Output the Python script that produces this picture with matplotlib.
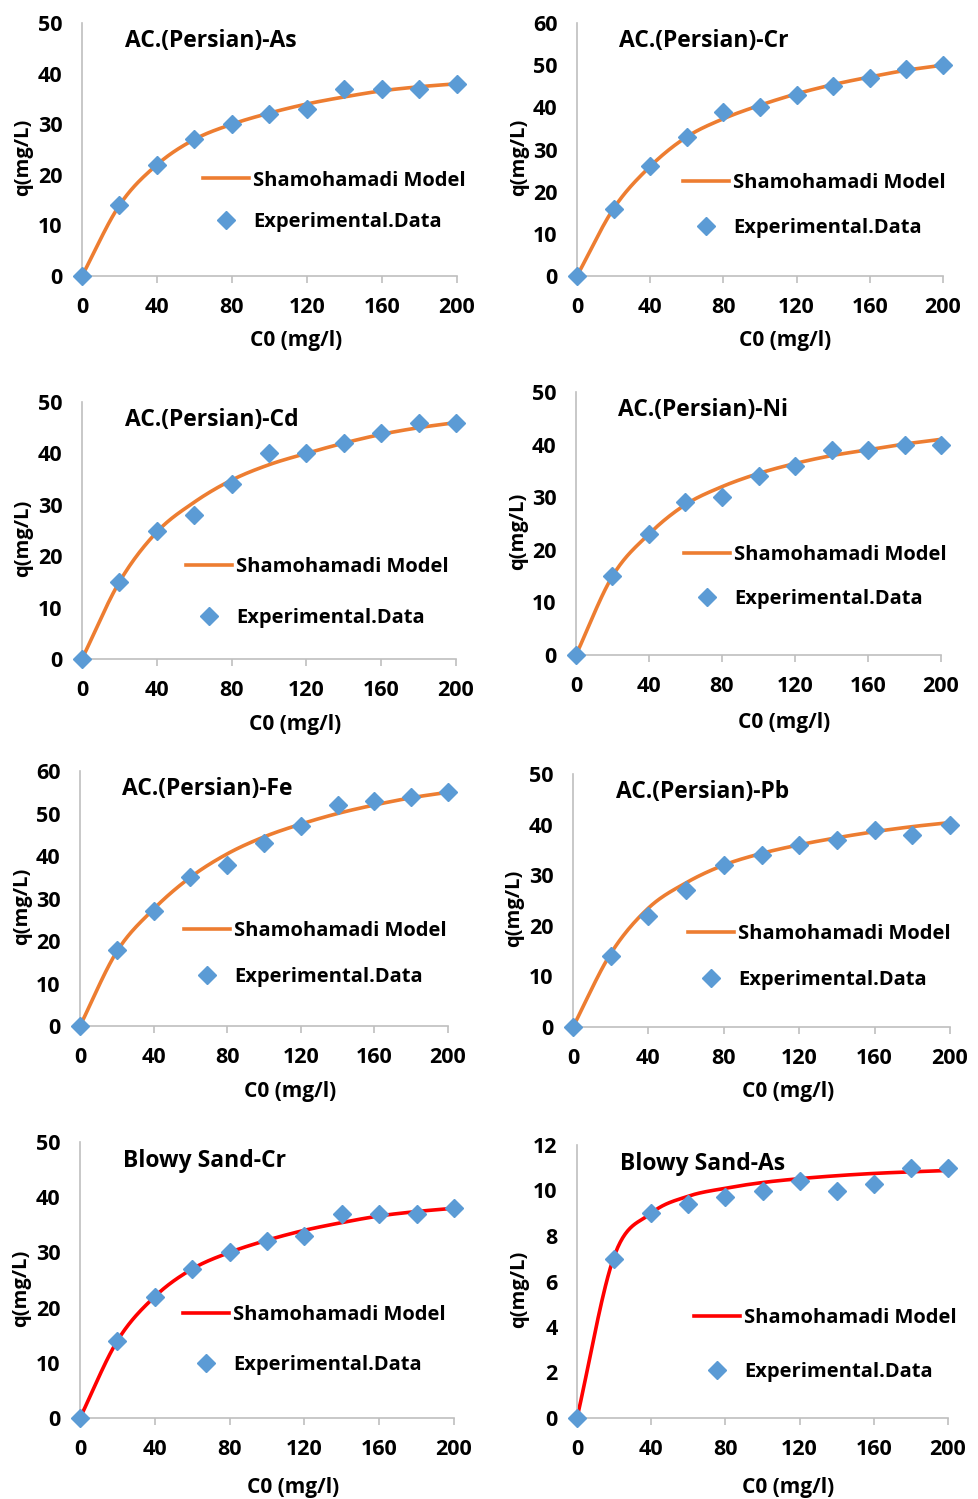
import matplotlib
matplotlib.use("Agg")
import matplotlib.pyplot as plt
import numpy as np

plt.rcParams['font.family'] = ['Open Sans', 'DejaVu Sans']
plt.rcParams['font.weight'] = 'bold'

# Data
c0 = [0, 20, 40, 60, 80, 100, 120, 140, 160, 180, 200]

titles = ['AC.(Persian)-As', 'AC.(Persian)-Cr', 'AC.(Persian)-Cd', 'AC.(Persian)-Ni',
          'AC.(Persian)-Fe', 'AC.(Persian)-Pb', 'Blowy Sand-Cr', 'Blowy Sand-As']

exp_as = [0, 14, 22, 27, 30, 32, 33, 37, 37, 37, 38]
mod_as = [0, 14, 22, 27, 30, 32.2, 34, 35.4, 36.6, 37.4, 38]

exp_cr = [0, 16, 26, 33, 39, 40, 43, 45, 47, 49, 50]
mod_cr = [0, 16, 26, 33, 37.3, 40.5, 43.2, 45.4, 47.2, 48.8, 50]

exp_cd = [0, 15, 25, 28, 34, 40, 40, 42, 44, 46, 46]
mod_cd = [0, 15, 24.7, 30.5, 34.8, 37.8, 40, 42, 43.7, 45, 46]

exp_ni = [0, 15, 23, 29, 30, 34, 36, 39, 39, 40, 40]
mod_ni = [0, 15, 23, 28.6, 32, 34.5, 36.4, 37.9, 39, 40.1, 41]

exp_fe = [0, 18, 27, 35, 38, 43, 47, 52, 53, 54, 55]
mod_fe = [0, 17.5, 27.5, 35, 40.5, 44.5, 47.5, 50, 52, 53.7, 55]

exp_pb = [0, 14, 22, 27, 32, 34, 36, 37, 39, 38, 40]
mod_pb = [0, 14.5, 23.5, 28.5, 32, 34.3, 36, 37.4, 38.6, 39.6, 40.4]

exp_bs_cr = [0, 14, 22, 27, 30, 32, 33, 37, 37, 37, 38]
mod_bs_cr = [0, 14, 22, 27, 30, 32.2, 34, 35.4, 36.6, 37.4, 38]

exp_bs_as = [0, 7, 9, 9.4, 9.7, 10, 10.4, 10, 10.3, 11, 11]
mod_bs_as = [0, 7.1, 9.0, 9.75, 10.1, 10.35, 10.52, 10.65, 10.75, 10.82, 10.88]

exps = [exp_as, exp_cr, exp_cd, exp_ni, exp_fe, exp_pb, exp_bs_cr, exp_bs_as]
mods = [mod_as, mod_cr, mod_cd, mod_ni, mod_fe, mod_pb, mod_bs_cr, mod_bs_as]
ymax = [50, 60, 50, 50, 60, 50, 50, 12]
ystep = [10, 10, 10, 10, 10, 10, 10, 2]
line_colors = ['#ED7D31'] * 6 + ['#FF0000'] * 2

# axes boxes in pixels: left, right, top, bottom
boxes = [(82, 457, 23, 276), (577, 943, 23, 276),
         (82, 456, 402, 659), (576, 941, 392, 655),
         (80, 448, 771, 1026), (573, 950, 774, 1027),
         (80, 454, 1142, 1418), (577, 948, 1145, 1418)]
leg_pos = [(0.323, 0.296, 1.05), (0.29, 0.28, 1.25), (0.278, 0.26, 1.55), (0.296, 0.297, 1.2),
           (0.283, 0.282, 1.3), (0.305, 0.277, 1.3), (0.275, 0.283, 1.5), (0.315, 0.267, 1.65)]


def smooth(x, y, n=30):
    # Catmull-Rom spline, similar to Excel's smoothed line
    x = np.asarray(x, float)
    y = np.asarray(y, float)
    px = np.concatenate([[2 * x[0] - x[1]], x, [2 * x[-1] - x[-2]]])
    py = np.concatenate([[2 * y[0] - y[1]], y, [2 * y[-1] - y[-2]]])
    xs, ys = [], []
    t = np.linspace(0, 1, n, endpoint=False)
    for i in range(1, len(px) - 2):
        for p, out in ((px, xs), (py, ys)):
            p0, p1, p2, p3 = p[i - 1], p[i], p[i + 1], p[i + 2]
            out.extend(0.5 * (2 * p1 + (-p0 + p2) * t + (2 * p0 - 5 * p1 + 4 * p2 - p3) * t ** 2
                              + (-p0 + 3 * p1 - 3 * p2 + p3) * t ** 3))
    xs.append(x[-1])
    ys.append(y[-1])
    return np.array(xs), np.array(ys)


W, H = 979, 1499
fig = plt.figure(figsize=(W / 100, H / 100), dpi=100)
fs = 14.5
tick_fs = 15.5

for i in range(8):
    l, r, t, b = boxes[i]
    ax = fig.add_axes([l / W, 1 - b / H, (r - l) / W, (b - t) / H])
    sx, sy = smooth(c0, mods[i])
    ax.plot(sx, sy, color=line_colors[i], lw=2.6, label='Shamohamadi Model', zorder=2, clip_on=False)
    ax.plot(c0, exps[i], 'D', color='#5B9BD5', ms=9, label='Experimental.Data', zorder=3, clip_on=False)
    ax.set_xlim(0, 200)
    ax.set_ylim(0, ymax[i])
    ax.set_xticks(np.arange(0, 201, 40))
    ax.set_yticks(np.arange(0, ymax[i] + 0.1, ystep[i]))
    for s in ['top', 'right']:
        ax.spines[s].set_visible(False)
    for s in ['left', 'bottom']:
        ax.spines[s].set_color('#BFBFBF')
        ax.spines[s].set_linewidth(1.2)
    ax.tick_params(axis='x', length=5, color='#BFBFBF', width=1.2, pad=10, labelsize=tick_fs)
    ax.tick_params(axis='y', length=0, pad=14, labelsize=tick_fs)
    for lab in ax.get_xticklabels() + ax.get_yticklabels():
        lab.set_fontweight('bold')
    ax.set_xlabel('C0 (mg/l)', fontsize=fs + 0.5, fontweight='bold')
    ax.set_ylabel('q(mg/L)', fontsize=fs, fontweight='bold')
    ax.xaxis.set_label_coords(0.57, -0.215)
    ax.yaxis.set_label_coords(-0.13, 0.47)
    ax.text(0.115, 0.93, titles[i], transform=ax.transAxes, fontsize=16.5,
            fontweight='bold', va='center', ha='left')
    lx, ly, sp = leg_pos[i]
    ax.legend(loc='center left', bbox_to_anchor=(lx, ly), frameon=False,
              prop={'weight': 'bold', 'size': fs}, handlelength=2.3, handletextpad=0.2,
              labelspacing=sp, borderpad=0, borderaxespad=0)

fig.savefig('out.png', dpi=100)
